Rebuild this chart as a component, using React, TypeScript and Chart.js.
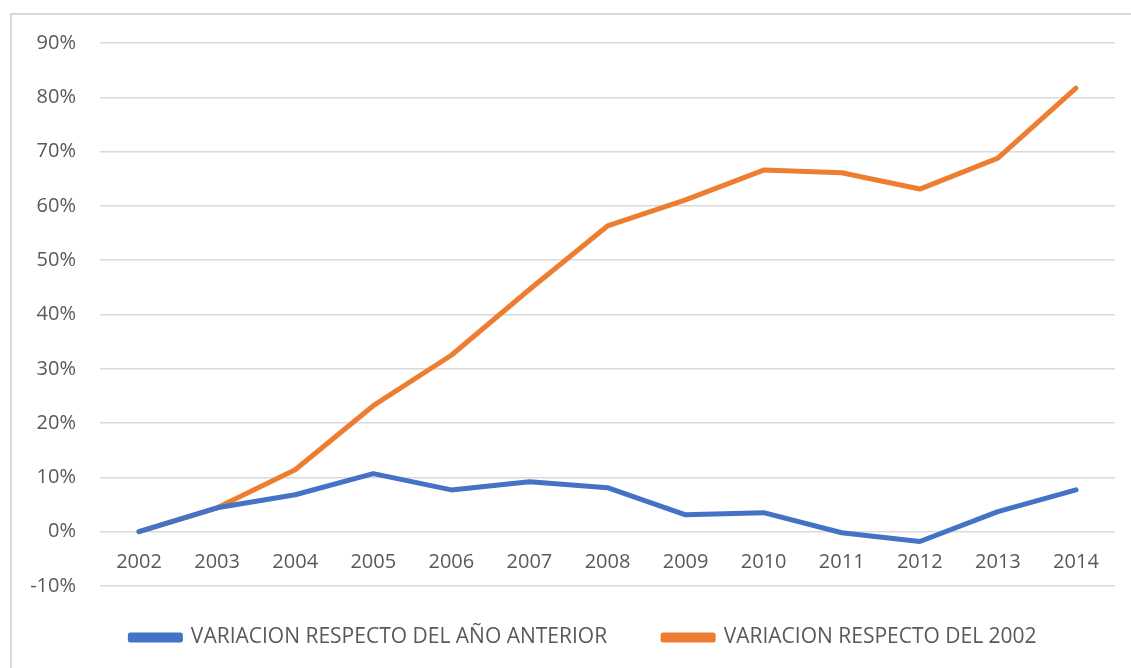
import React, { useEffect, useRef } from "react";
import { Chart, registerables } from "chart.js";

Chart.register(...registerables);

const years = ["2002", "2003", "2004", "2005", "2006", "2007", "2008", "2009", "2010", "2011", "2012", "2013", "2014"];
const variacionAnual = [0, 4.4, 6.8, 10.7, 7.7, 9.2, 8.1, 3.1, 3.5, -0.2, -1.8, 3.7, 7.7];
const variacion2002 = [0, 4.4, 11.4, 23.2, 32.5, 44.6, 56.3, 61.1, 66.6, 66.1, 63.1, 68.8, 81.7];
const seriesNames = ["VARIACION RESPECTO DEL AÑO ANTERIOR", "VARIACION RESPECTO DEL 2002"];
const seriesColors = ["#4472C4", "#ED7D31"];

const FONT = "'Open Sans', 'Liberation Sans', sans-serif";

const legendShift = {
  id: "legendShift",
  afterLayout(chart: any) {
    const lg = chart.legend;
    if (!lg) return;
    lg.left = 52;
    lg.top -= 15;
    lg.bottom -= 15;
  },
};

export default function App() {
  const ref = useRef<HTMLCanvasElement | null>(null);

  useEffect(() => {
    if (!ref.current) return;
    const chart = new Chart(ref.current, {
      type: "line",
      data: {
        labels: years,
        datasets: [variacionAnual, variacion2002].map((d, i) => ({
          label: seriesNames[i],
          data: d,
          borderColor: seriesColors[i],
          backgroundColor: seriesColors[i],
          borderWidth: 5,
          pointRadius: 0,
          tension: 0,
          borderCapStyle: "round" as const,
          borderJoinStyle: "round" as const,
        })),
      },
      plugins: [legendShift],
      options: {
        responsive: false,
        animation: false,
        layout: { padding: { left: 0, right: 16, top: 43, bottom: 87 } },
        plugins: {
          tooltip: { enabled: false },
          legend: {
            position: "bottom",
            labels: {
              boxWidth: 50,
              boxHeight: 5,
              padding: 56,
              color: "#595959",
              font: { family: FONT, size: 21 },
            },
          },
        },
        scales: {
          x: {
            position: { y: 0 } as any,
            offset: true,
            grid: { display: false, drawTicks: false },
            border: { display: false },
            ticks: { color: "#595959", font: { family: FONT, size: 20 }, padding: 19, maxRotation: 0 },
          },
          y: {
            min: -10,
            max: 90,
            afterFit: (s: any) => { s.width = 100; },
            grid: { color: "#d9d9d9", lineWidth: 1.5, drawTicks: false },
            border: { display: false },
            ticks: {
              stepSize: 10,
              padding: 24,
              color: "#595959",
              font: { family: FONT, size: 20 },
              callback: (v: any) => v + "%",
            },
          },
        },
      },
    });
    return () => chart.destroy();
  }, []);

  return (
    <div style={{ position: "fixed", left: 0, top: 0, width: 1131, height: 668, overflow: "hidden", background: "#fff" }}>
      <div style={{ position: "absolute", left: 10, top: 13, width: 1200, height: 700, border: "2px solid #d9d9d9" }} />
      <canvas ref={ref} width={1131} height={760} style={{ position: "absolute", left: 0, top: 0 }} />
    </div>
  );
}
